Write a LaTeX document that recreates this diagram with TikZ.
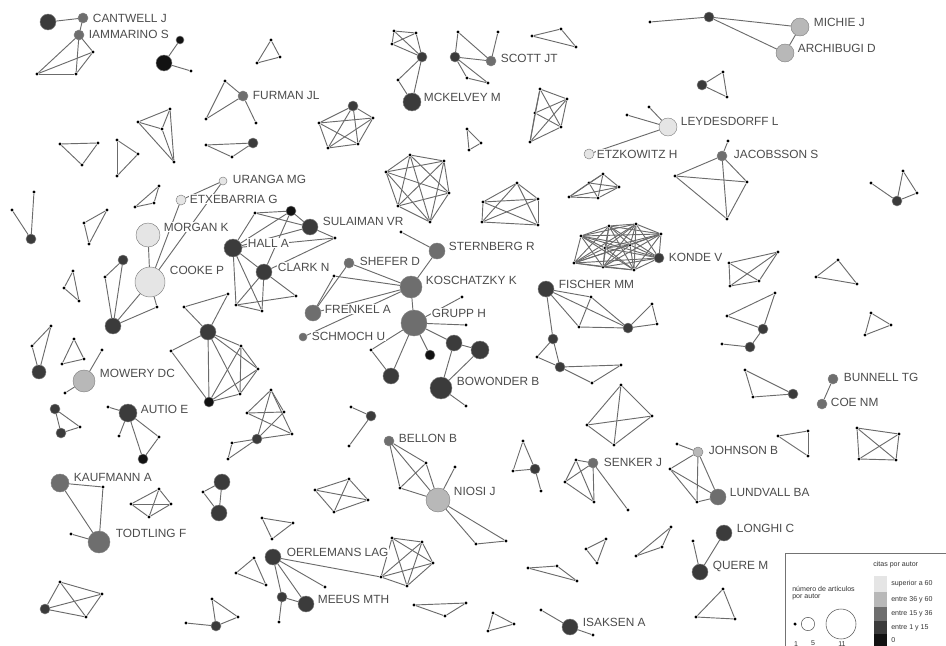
\documentclass[tikz,border=0pt]{standalone}
\usepackage{fontspec}
\setsansfont{Liberation Sans}
\definecolor{cTop}{gray}{0.90}
\definecolor{cHigh}{gray}{0.72}
\definecolor{cMid}{gray}{0.43}
\definecolor{cLow}{gray}{0.23}
\definecolor{cZero}{gray}{0.07}
\tikzset{
  ed/.style={draw=black!58, line width=0.7pt},
  dot/.style={circle, fill=black, inner sep=0pt, minimum size=2.6pt},
  au/.style={circle, inner sep=0pt, draw=black!50, line width=0.35pt},
  czero/.style={au, fill=cZero},
  clow/.style={au, fill=cLow},
  cmid/.style={au, fill=cMid},
  chigh/.style={au, fill=cHigh},
  ctop/.style={au, fill=cTop},
  sz4/.style={minimum size=6pt},
  sz5/.style={minimum size=7.5pt},
  sz7/.style={minimum size=10.5pt},
  sz8/.style={minimum size=12pt},
  sz9/.style={minimum size=13.5pt},
  sz11/.style={minimum size=16.5pt},
  sz12/.style={minimum size=18pt},
  sz13/.style={minimum size=19.5pt},
  sz15/.style={minimum size=22.5pt},
  lab/.style={anchor=west, inner sep=0.5pt, fill=white, text=black!70,
    font=\sffamily\fontsize{8.9}{10}\selectfont},
  leg/.style={anchor=west, inner sep=0pt, text=black!80,
    font=\sffamily\fontsize{5.3}{6}\selectfont}
}
% every pair of a group of nodes
\newcommand\clique[1]{\foreach \u [count=\ci] in {#1}{\foreach \v [count=\cj] in {#1}{\ifnum\ci<\cj\relax\draw[ed] (\u) -- (\v);\fi}}}
\begin{document}
\begin{tikzpicture}[x=0.75pt,y=-0.75pt]
\useasboundingbox (0,0) rectangle (946,646);
% single-article authors
\foreach \n/\x/\y in {ca1/37/74, ca2/76/74, ca3/93/52, b3/191/71,
  c1/271/40, c2/280/57, c3/257/63, d1/225/81, d2/206/119, d3/256/123,
  e1/138/122, e2/170/109, e3/174/162, e4/162/129,
  f1/60/144, f2/98/143, f3/82/165, g1/117/140, g2/138/154, g3/117/176,
  h1/206/145, h2/232/157, co2/105/277, co3/157/307, i1/12/210, i2/34/192,
  j1/107/210, j2/84/223, j3/89/244, k1/135/207, k2/154/203, k3/159/186,
  hd1/255/213, hd2/335/238, hd3/296/296, hd4/236/305, hd5/262/311,
  l1/73/271, l2/64/288, l3/79/301, m1/51/326, m2/32/346,
  n1/74/339, n2/62/364, n3/84/359, mw1/102/350, mw2/65/393,
  p1/184/307, p2/228/294, p3/171/351, p4/241/346, p5/258/369, p6/240/394,
  au1/108/407, au2/119/436, au3/159/437, q2/80/427,
  cr1/271/390, cr2/247/413, cr3/284/412, cr4/292/434, cr6/232/443, cr7/228/459,
  kf1/103/487, kf2/71/534, s1/131/504, s2/159/489, s3/171/504, s4/149/517,
  t3/203/492, u1/262/518, u2/293/523, u3/272/539, oe2/279/622, oe3/325/587,
  w1/254/558, w2/236/573, w3/266/585, x1/60/582, x2/102/594, x3/86/617,
  y1/212/599, y2/238/617, y4/186/623, z1/351/407, z3/349/446,
  ni1/426/463, ni2/400/488, ni3/455/467, ni4/476/544, ni5/506/541,
  aa1/315/490, aa2/349/479, aa3/368/500, aa4/334/512,
  bb1/392/538, bb2/422/542, bb3/433/563, bb4/407/586, bb5/381/577,
  cc1/414/605, cc2/466/603, cc3/445/616, dd1/493/613, dd2/514/624, dd3/488/631,
  ee1/606/539, ee2/586/549, ee3/597/563, ff1/528/568, ff2/557/566, ff3/577/581,
  is1/541/610, is2/593/635, gg1/523/441, gg2/513/471, gg4/541/491,
  se1/576/460, se2/565/482, se3/594/502, se4/628/510,
  hh1/621/385, hh2/587/425, hh3/652/416, hh4/614/445,
  jo1/677/444, jo2/670/469, jo3/697/502, ii1/778/436, ii2/808/431, ii3/808/456,
  jj1/857/428, jj2/899/434, jj3/896/460, jj4/859/459, qu1/693/541,
  kk1/671/527, kk2/662/547, kk3/636/556, ll1/723/589, ll2/735/619, ll3/696/617,
  st1/401/232, ko1/334/276, gr1/371/350, gr2/462/297, gr3/466/325, gr8/466/406,
  fi1/591/297, fi2/579/327, fi4/652/304, fi5/657/324, fi7/537/357, fi9/592/383, fi10/621/365,
  mk1/394/31, mk2/416/33, mk3/392/44, mk4/398/80,
  sc1/458/32, sc2/498/32, sc3/467/78, sc4/488/83, uu1/532/36, uu2/561/29, uu3/576/47,
  pp2/373/118, pp3/358/144, pp4/328/148, pp5/319/123, vv1/467/129, vv2/481/143, vv3/469/150,
  qq1/540/89, qq2/567/99, qq3/561/127, qq4/530/142, qq5/535/113,
  rr1/410/155, rr2/444/161, rr3/449/193, rr4/430/222, rr5/398/206, rr6/386/172,
  ss1/603/174, ss2/589/183, ss3/619/187, ss4/598/198, ss5/569/197,
  tt1/517/183, tt2/538/199, tt3/538/225, tt4/482/222, tt5/483/202,
  le1/649/107, le2/627/115, mi1/650/22, ar1/723/72, ar2/727/97,
  ja1/728/141, ja2/675/176, ja3/747/182, ja4/727/219, rt1/871/183, rt2/903/171, rt3/917/193,
  kd1/581/236, kd2/609/226, kd3/636/224, kd4/661/234, kd5/634/270, kd6/603/267,
  kd7/574/263, kd8/605/248, kd9/630/245,
  dm1/729/263, dm2/778/252, dm3/759/281, dm4/730/286, wx1/838/260, wx2/816/277, wx3/857/284,
  ln1/775/293, ln2/727/316, ln5/722/344, yy1/871/313, yy2/891/325, yy3/865/335,
  bt1/745/370, bt2/753/397}
  \node[dot] (\n) at (\x,\y) {};
% authors with more articles
\node[clow,sz8] (ca) at (48,22) {};
\node[cmid,sz5] (cantwell) at (83,18) {};
\node[cmid,sz5] (iammarino) at (79,35) {};
\node[czero,sz4] (b1) at (180,40) {};
\node[czero,sz8] (b2) at (164,63) {};
\node[cmid,sz5] (furman) at (243,96) {};
\node[clow,sz5] (h3) at (253,143) {};
\node[ctop,sz4] (uranga) at (223,181) {};
\node[ctop,sz5] (etxebarria) at (181,200) {};
\node[ctop,sz12] (morgan) at (148,235) {};
\node[ctop,sz15] (cooke) at (150,282) {};
\node[clow,sz5] (co1) at (123,260) {};
\node[clow,sz8] (co4) at (113,326) {};
\node[clow,sz5] (i3) at (31,239) {};
\node[czero,sz5] (hb) at (291,211) {};
\node[clow,sz8] (sulaiman) at (310,227) {};
\node[clow,sz9] (hall) at (233,248) {};
\node[clow,sz8] (clark) at (264,272) {};
\node[clow,sz7] (m3) at (39,372) {};
\node[chigh,sz11] (mowery) at (84,381) {};
\node[clow,sz8] (p0) at (208,332) {};
\node[czero,sz5] (p7) at (209,402) {};
\node[clow,sz9] (autio) at (128,413) {};
\node[czero,sz5] (au4) at (143,459) {};
\node[clow,sz5] (q1) at (55,409) {};
\node[clow,sz5] (q3) at (61,433) {};
\node[clow,sz5] (cr5) at (257,439) {};
\node[cmid,sz9] (kaufmann) at (60,483) {};
\node[cmid,sz11] (todtling) at (99,542) {};
\node[clow,sz8] (t1) at (222,482) {};
\node[clow,sz8] (t2) at (219,513) {};
\node[clow,sz8] (oerlemans) at (273,557) {};
\node[clow,sz5] (oe1) at (282,597) {};
\node[clow,sz8] (meeus) at (306,604) {};
\node[clow,sz5] (x4) at (45,609) {};
\node[clow,sz5] (y3) at (216,626) {};
\node[clow,sz5] (z2) at (371,416) {};
\node[cmid,sz5] (bellon) at (389,441) {};
\node[chigh,sz12] (niosi) at (438,500) {};
\node[clow,sz8] (isaksen) at (570,627) {};
\node[clow,sz5] (gg3) at (535,469) {};
\node[cmid,sz5] (senker) at (593,463) {};
\node[chigh,sz5] (johnson) at (698,452) {};
\node[cmid,sz8] (lundvall) at (718,497) {};
\node[clow,sz8] (longhi) at (724,533) {};
\node[clow,sz8] (quere) at (700,572) {};
\node[cmid,sz8] (sternberg) at (437,251) {};
\node[cmid,sz11] (koschatzky) at (411,287) {};
\node[cmid,sz5] (shefer) at (349,263) {};
\node[cmid,sz8] (frenkel) at (313,313) {};
\node[cmid,sz13] (grupp) at (414,323) {};
\node[cmid,sz4] (schmoch) at (303,337) {};
\node[clow,sz8] (gr4) at (454,343) {};
\node[clow,sz9] (gr5) at (480,350) {};
\node[czero,sz5] (gr6) at (430,355) {};
\node[clow,sz8] (gr7) at (391,376) {};
\node[clow,sz11] (bowonder) at (441,388) {};
\node[clow,sz8] (fischer) at (546,289) {};
\node[clow,sz5] (fi3) at (628,328) {};
\node[clow,sz5] (fi6) at (553,339) {};
\node[clow,sz5] (fi8) at (560,367) {};
\node[clow,sz5] (mk0) at (422,57) {};
\node[clow,sz9] (mckelvey) at (412,102) {};
\node[clow,sz5] (sc0) at (455,57) {};
\node[cmid,sz5] (scott) at (491,61) {};
\node[clow,sz5] (pp1) at (353,106) {};
\node[ctop,sz5] (etzkowitz) at (589,154) {};
\node[ctop,sz9] (leydesdorff) at (668,127) {};
\node[clow,sz5] (mi0) at (709,17) {};
\node[chigh,sz9] (michie) at (800,27) {};
\node[chigh,sz9] (archibugi) at (785,53) {};
\node[clow,sz5] (ar0) at (702,85) {};
\node[cmid,sz5] (jacobsson) at (722,156) {};
\node[clow,sz5] (rt0) at (897,201) {};
\node[clow,sz5] (konde) at (659,258) {};
\node[clow,sz5] (ln3) at (763,329) {};
\node[clow,sz5] (ln4) at (750,347) {};
\node[clow,sz5] (bt3) at (793,394) {};
\node[cmid,sz5] (bunnell) at (833,379) {};
\node[cmid,sz5] (coe) at (822,404) {};
% co-authorship links
\foreach \a/\b in {ca/cantwell, cantwell/iammarino, b1/b2, b2/b3,
  d1/furman, d1/d2, d2/furman, furman/d3,
  uranga/etxebarria, uranga/cooke, etxebarria/cooke, morgan/cooke, cooke/co4, cooke/co3,
  co3/co4, co1/co4, co2/co4, co1/co2, i1/i3, i2/i3,
  hd1/hb, hd1/hall, hd1/sulaiman, hb/sulaiman, hb/hall, hb/clark, hall/sulaiman,
  sulaiman/hd2, hall/hd2, clark/hd2, hall/clark, hall/hd4, hall/hd5, clark/hd4,
  clark/hd5, clark/hd3, hd4/hd3, hd4/hd5,
  m1/m3, m2/m3, m1/m2, mowery/mw1, mowery/mw2,
  p1/p2, p1/p0, p2/p0, p3/p0, p3/p7, p0/p7, p0/p4, p0/p5, p0/p6, p7/p4, p7/p5, p7/p6,
  p4/p5, p4/p6, p5/p6,
  au1/autio, au2/autio, autio/au4, autio/au3, au3/au4, q1/q2, q2/q3, q1/q3,
  cr1/cr2, cr1/cr3, cr1/cr5, cr1/cr4, cr2/cr3, cr2/cr4, cr3/cr5, cr5/cr4, cr5/cr6,
  cr5/cr7, cr6/cr7,
  kaufmann/kf1, kf1/todtling, kaufmann/todtling, kf2/todtling,
  oerlemans/oe1, oerlemans/meeus, oerlemans/oe3, oerlemans/bb5, oe1/meeus, oe1/oe2,
  y1/y2, y1/y3, y3/y2, y3/y4, z1/z2, z2/z3,
  bellon/ni1, bellon/ni2, bellon/niosi, ni1/ni2, ni1/niosi, ni2/niosi, niosi/ni3,
  niosi/ni4, niosi/ni5, ni4/ni5, isaksen/is1, isaksen/is2,
  gg1/gg2, gg1/gg3, gg2/gg3, gg3/gg4,
  senker/se1, senker/se2, senker/se3, senker/se4, se1/se2, se1/se3, se2/se3,
  jo1/johnson, johnson/jo2, johnson/jo3, johnson/lundvall, jo2/lundvall, jo2/jo3,
  jo3/lundvall, quere/longhi, quere/qu1,
  st1/sternberg, sternberg/koschatzky, shefer/frenkel, ko1/frenkel, ko1/koschatzky,
  shefer/koschatzky, frenkel/koschatzky, schmoch/koschatzky, koschatzky/grupp,
  gr1/grupp, gr1/gr7, grupp/gr2, grupp/gr3, grupp/gr4, grupp/gr6, grupp/gr7,
  gr4/gr5, gr4/bowonder, gr5/bowonder, bowonder/gr8,
  fischer/fi1, fischer/fi2, fischer/fi3, fi1/fi2, fi1/fi3, fi2/fi3, fi3/fi4, fi4/fi5,
  fi5/fi3, fischer/fi6, fi6/fi7, fi6/fi8, fi7/fi8, fi8/fi9, fi8/fi10, fi9/fi10,
  mk0/mk4, mk0/mckelvey, mk4/mckelvey,
  sc1/sc0, sc1/scott, sc2/scott, sc0/scott, sc0/sc3, sc0/sc4, sc3/sc4,
  leydesdorff/le1, leydesdorff/le2, leydesdorff/etzkowitz,
  mi1/mi0, mi0/michie, mi0/archibugi, michie/archibugi,
  ja1/jacobsson, jacobsson/ja2, jacobsson/ja3, jacobsson/ja4, ja2/ja3, ja2/ja4, ja3/ja4,
  rt1/rt0, rt0/rt2, rt2/rt3, rt3/rt0, ln3/ln4, ln4/ln5, bunnell/coe}
  \draw[ed] (\a) -- (\b);
% fully linked groups
\clique{ca1,ca2,ca3,iammarino}
\clique{c1,c2,c3} \clique{e1,e2,e3,e4} \clique{f1,f2,f3} \clique{g1,g2,g3}
\clique{h1,h2,h3} \clique{j1,j2,j3} \clique{k1,k2,k3} \clique{l1,l2,l3}
\clique{n1,n2,n3} \clique{s1,s2,s3,s4} \clique{t1,t2,t3} \clique{u1,u2,u3}
\clique{w1,w2,w3} \clique{x1,x2,x3,x4} \clique{aa1,aa2,aa3,aa4}
\clique{bb1,bb2,bb3,bb4,bb5} \clique{cc1,cc2,cc3} \clique{dd1,dd2,dd3}
\clique{ee1,ee2,ee3} \clique{ff1,ff2,ff3} \clique{hh1,hh2,hh3,hh4}
\clique{ii1,ii2,ii3} \clique{jj1,jj2,jj3,jj4} \clique{kk1,kk2,kk3}
\clique{ll1,ll2,ll3} \clique{uu1,uu2,uu3} \clique{mk1,mk2,mk3,mk0}
\clique{pp1,pp2,pp3,pp4,pp5} \clique{vv1,vv2,vv3} \clique{qq1,qq2,qq3,qq4,qq5}
\clique{rr1,rr2,rr3,rr4,rr5,rr6} \clique{ss1,ss2,ss3,ss4,ss5}
\clique{tt1,tt2,tt3,tt4,tt5} \clique{ar0,ar1,ar2}
\clique{kd1,kd2,kd3,kd4,konde,kd5,kd6,kd7,kd8,kd9}
\clique{dm1,dm2,dm3,dm4} \clique{wx1,wx2,wx3} \clique{ln1,ln2,ln3}
\clique{yy1,yy2,yy3} \clique{bt1,bt2,bt3}
% author names
\node[lab] (tCantwell) at (92,18) {CANTWELL J};
\node[lab] (tIammarino) at (88,34) {IAMMARINO S};
\node[lab] (tFurman) at (252,95) {FURMAN JL};
\node[lab] (tMckelvey) at (423,97) {MCKELVEY M};
\node[lab] (tScott) at (500,58) {SCOTT JT};
\node[lab] (tMichie) at (813,22) {MICHIE J};
\node[lab] (tArchibugi) at (797,48) {ARCHIBUGI D};
\node[lab] (tLeydesdorff) at (680,121) {LEYDESDORFF L};
\node[lab] (tEtzkowitz) at (596,154) {ETZKOWITZ H};
\node[lab] (tJacobsson) at (733,154) {JACOBSSON S};
\node[lab] (tUranga) at (232,179) {URANGA MG};
\node[lab] (tEtxebarria) at (189,199) {ETXEBARRIA G};
\node[lab] (tMorgan) at (163,227) {MORGAN K};
\node[lab] (tSulaiman) at (322,221) {SULAIMAN VR};
\node[lab] (tHall) at (247,243) {HALL A};
\node[lab] (tClark) at (277,267) {CLARK N};
\node[lab] (tCooke) at (169,270) {COOKE P};
\node[lab] (tSternberg) at (448,246) {STERNBERG R};
\node[lab] (tShefer) at (359,261) {SHEFER D};
\node[lab] (tKoschatzky) at (425,280) {KOSCHATZKY K};
\node[lab] (tKonde) at (668,257) {KONDE V};
\node[lab] (tFischer) at (558,284) {FISCHER MM};
\node[lab] (tFrenkel) at (324,309) {FRENKEL A};
\node[lab] (tGrupp) at (431,313) {GRUPP H};
\node[lab] (tSchmoch) at (311,336) {SCHMOCH U};
\node[lab] (tMowery) at (99,373) {MOWERY DC};
\node[lab] (tBowonder) at (456,381) {BOWONDER B};
\node[lab] (tAutio) at (140,409) {AUTIO E};
\node[lab] (tBunnell) at (843,377) {BUNNELL TG};
\node[lab] (tCoe) at (830,402) {COE NM};
\node[lab] (tBellon) at (398,438) {BELLON B};
\node[lab] (tJohnson) at (708,450) {JOHNSON B};
\node[lab] (tSenker) at (603,462) {SENKER J};
\node[lab] (tKaufmann) at (73,477) {KAUFMANN A};
\node[lab] (tNiosi) at (453,491) {NIOSI J};
\node[lab] (tLundvall) at (729,492) {LUNDVALL BA};
\node[lab] (tLonghi) at (736,528) {LONGHI C};
\node[lab] (tTodtling) at (115,533) {TODTLING F};
\node[lab] (tOerlemans) at (286,552) {OERLEMANS LAG};
\node[lab] (tQuere) at (712,566) {QUERE M};
\node[lab] (tMeeus) at (317,599) {MEEUS MTH};
\node[lab] (tIsaksen) at (582,622) {ISAKSEN A};
% legend
\draw[black!55, line width=0.4pt, fill=white] (785,553) rectangle (952,652);
\node[leg] (legCitas) at (873,565) {citas por autor};
\fill[cTop] (874,576) rectangle (887,592);
\fill[cHigh] (874,592) rectangle (887,607);
\fill[cMid] (874,607) rectangle (887,621);
\fill[cLow] (874,621) rectangle (887,634);
\fill[cZero] (874,634) rectangle (887,648);
\node[leg] (legTop) at (891,584) {superior a 60};
\node[leg] (legHigh) at (891,600) {entre 36 y 60};
\node[leg] (legMid) at (891,614) {entre 15 y 36};
\node[leg] (legLow) at (891,628) {entre 1 y 15};
\node[leg] (legZero) at (891,640) {0};
\node[leg] (legArt) at (792,589) {número de artículos};
\node[leg] (legPor) at (792,597) {por autor};
\node[dot] (legOne) at (795,624) {};
\node[circle, draw=black!65, line width=0.4pt, minimum size=10pt, inner sep=0pt] (legFive) at (808,624) {};
\node[circle, draw=black!65, line width=0.4pt, minimum size=22.5pt, inner sep=0pt] (legEleven) at (841,624) {};
\node[leg, anchor=center] (legOneT) at (796,644) {1};
\node[leg, anchor=center] (legFiveT) at (813,643) {5};
\node[leg, anchor=center] (legElevenT) at (842,644) {11};
\end{tikzpicture}
\end{document}
